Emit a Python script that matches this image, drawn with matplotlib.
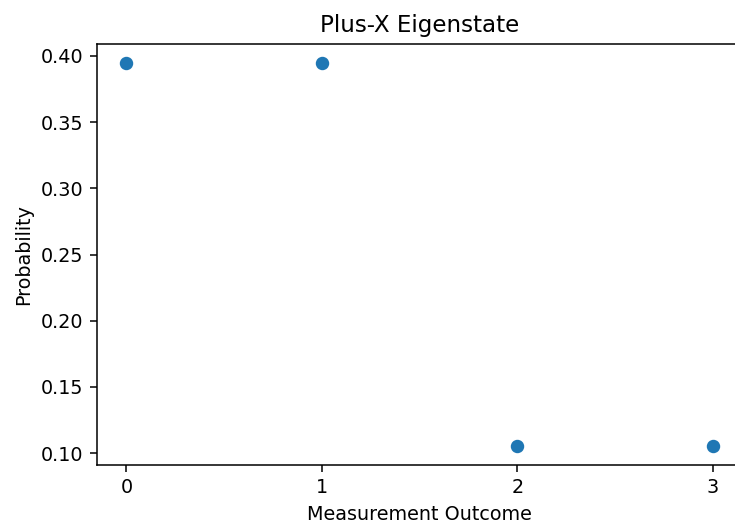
import matplotlib
matplotlib.use("Agg")
import matplotlib.pyplot as plt

outcomes = [0, 1, 2, 3]
probs = [0.3945, 0.3945, 0.1055, 0.1055]

DPI = 138
fig = plt.figure(figsize=(735 / DPI, 529 / DPI), dpi=DPI)
ax = fig.add_axes([97 / 735, 64 / 529, 645 / 735, 421 / 529])
ax.scatter(outcomes, probs)
ax.set_xticks(outcomes)
ax.set_xlabel("Measurement Outcome")
ax.set_ylabel("Probability")
ax.set_title("Plus-X Eigenstate")
fig.savefig("out.png", dpi=DPI)
